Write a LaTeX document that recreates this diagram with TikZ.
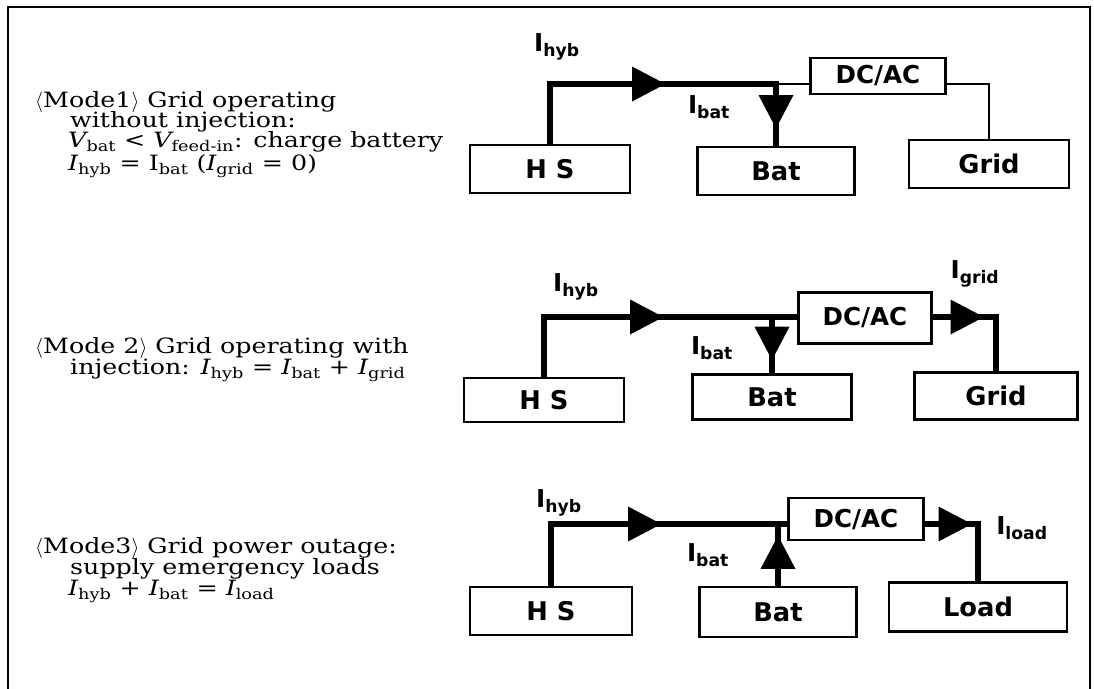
\documentclass[tikz,border=0pt]{standalone}
\usepackage{fontspec}
\setmainfont{DejaVu Serif}[FakeStretch=1.2]
\newfontfamily\lblfont{DejaVu Sans}
\usetikzlibrary{arrows.meta, decorations.markings, positioning}

\newcommand{\var}[2]{{\itshape #1}\textsubscript{#2}}
\newcommand{\cur}[1]{I\textsubscript{#1}}

\begin{document}
\begin{tikzpicture}[x=0.03cm, y=-0.03cm,
  bus/.style={line width=5pt},
  wire/.style={line width=1.5pt},
  unit/.style={draw, line width=2.3pt, inner sep=0pt, minimum width=4.8cm, minimum height=1.44cm,
    font=\lblfont\bfseries\fontsize{22}{22}\selectfont},
  conv/.style={unit, minimum width=4.05cm, font=\lblfont\bfseries\fontsize{21}{21}\selectfont},
  lbl/.style={inner sep=0pt, font=\lblfont\bfseries\fontsize{21}{21}\selectfont},
  mode/.style={anchor=base west, inner sep=0pt, font=\fontsize{18}{20}\selectfont},
  fwd/.style={postaction={decorate, decoration={markings,
    mark=at position #1 with {\arrow{Triangle[length=1cm, width=1.05cm, line width=0pt]}}}}}]
  \useasboundingbox (0,0) rectangle (1094,688);
  % frame
  \draw[line width=2.4pt] (8,700) -- (8,7) -- (1090,7) -- (1090,700);

  % mode 1: grid without injection
  \node[mode] (m1a) at (35,107) {$\langle$Mode1$\rangle$ Grid operating};
  \node[mode] (m1b) at (70,127) {without injection:};
  \node[mode] (m1c) at (68,147) {\var{V}{bat} < \var{V}{feed-in}: charge battery};
  \node[mode] (m1d) at (68,170) {\var{I}{hyb} = I\textsubscript{bat} (\var{I}{grid} = 0)};
  \node[unit] (hs1) at (550,169) {H S};
  \node[unit, minimum width=4.71cm] (bat1) at (776,171) {Bat};
  \node[unit] (grid1) at (989,164) {Grid};
  \node[conv, minimum height=1.08cm] (dcac1) at (878,76) {DC/AC};
  \coordinate (bus1) at (0,84);
  \coordinate (tee1) at (bat1.north |- bus1);
  \draw[bus, fwd=5.25cm, fwd=9.9cm] (hs1.north) |- (tee1) -- (bat1.north);
  \draw[wire] (tee1) -- (dcac1.west |- bus1);
  \draw[wire] (dcac1.east |- bus1) -| (grid1.north);
  \node[lbl] (ihyb1) at (557,47) {\cur{hyb}};
  \node[lbl] (ibat1) at (709,107) {\cur{bat}};

  % mode 2: grid with injection
  \node[mode] (m2a) at (35,353) {$\langle$Mode 2$\rangle$ Grid operating with};
  \node[mode] (m2b) at (70,374) {injection: \var{I}{hyb} = \var{I}{bat} + \var{I}{grid}};
  \node[unit, minimum height=1.32cm] (hs2) at (544,400) {H S};
  \node[unit, minimum width=4.77cm, minimum height=1.35cm] (bat2) at (772,397) {Bat};
  \node[unit, minimum width=4.89cm, minimum height=1.41cm] (grid2) at (996,396) {Grid};
  \node[conv, minimum width=3.99cm, minimum height=1.53cm] (dcac2) at (865,318) {DC/AC};
  \coordinate (bus2) at (0,317);
  \coordinate (tee2) at (bat2.north |- bus2);
  \draw[bus, fwd=5.37cm] (hs2.north) |- (dcac2.west |- bus2);
  \draw[bus, fwd=1.29cm] (tee2) -- (bat2.north);
  \draw[bus, fwd=1.53cm] (dcac2.east |- bus2) -| (grid2.north);
  \node[lbl] (ihyb2) at (576,287) {\cur{hyb}};
  \node[lbl] (ibat2) at (712,348) {\cur{bat}};
  \node[lbl] (igrid2) at (975,274) {\cur{grid}};

  % mode 3: power outage
  \node[mode] (m3a) at (35,553) {$\langle$Mode3$\rangle$ Grid power outage:};
  \node[mode] (m3b) at (70,574) {supply emergency loads};
  \node[mode] (m3c) at (68,595) {\var{I}{hyb} + \var{I}{bat} = \var{I}{load}};
  \node[unit, minimum width=4.86cm] (hs3) at (551,611) {H S};
  \node[unit, minimum width=4.71cm, minimum height=1.5cm] (bat3) at (778,612) {Bat};
  \node[unit, minimum width=5.34cm, minimum height=1.47cm] (load3) at (978,607) {Load};
  \node[conv, minimum height=1.26cm] (dcac3) at (856,519) {DC/AC};
  \coordinate (bus3) at (0,524);
  \coordinate (tee3) at (bat3.north |- bus3);
  \draw[bus, fwd=5.16cm] (hs3.north) |- (dcac3.west |- bus3);
  \draw[bus, fwd=1.5cm] (bat3.north) -- (tee3);
  \draw[bus, fwd=1.41cm] (dcac3.east |- bus3) -| (load3.north);
  \node[lbl] (ihyb3) at (559,503) {\cur{hyb}};
  \node[lbl] (ibat3) at (708,555) {\cur{bat}};
  \node[lbl] (iload3) at (1022,528) {\cur{load}};
\end{tikzpicture}
\end{document}
